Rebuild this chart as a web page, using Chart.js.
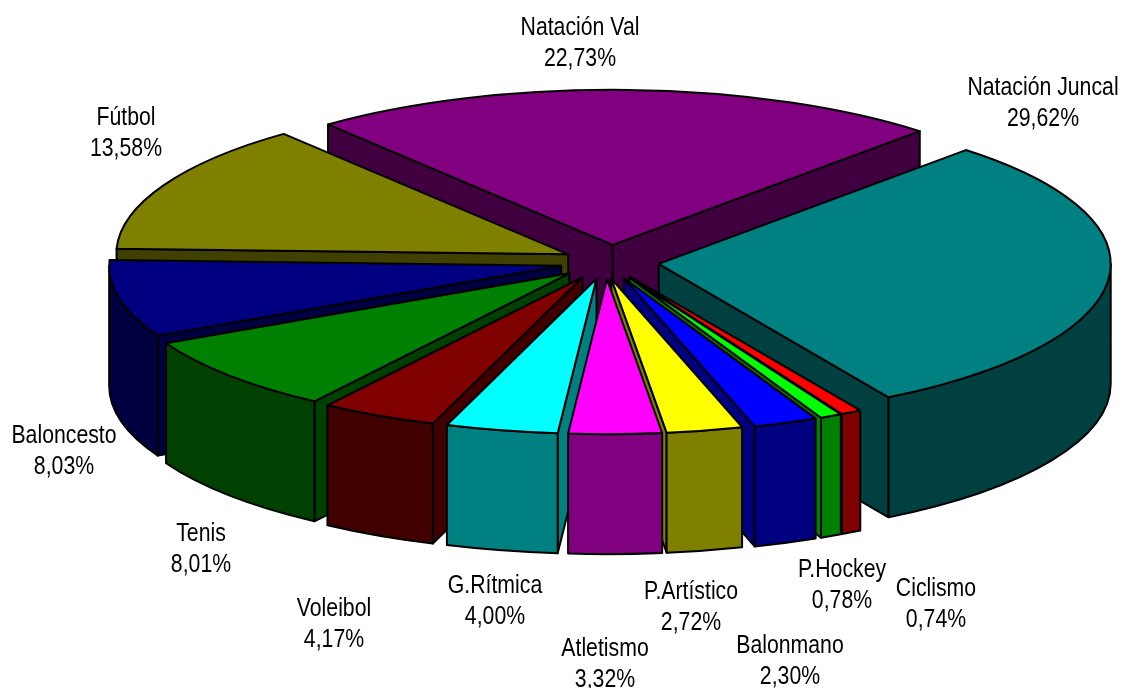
<!DOCTYPE html>
<html><head><meta charset="utf-8">
<style>html,body{margin:0;padding:0;background:#fff}canvas{display:block}</style>
<script src="https://cdn.jsdelivr.net/npm/chart.js@4"></script>
</head><body><canvas id="c" width="1122" height="688"></canvas>
<script>
const categories = ["Natación Juncal","Ciclismo","P.Hockey","Balonmano","P.Artístico","Atletismo","G.Rítmica","Voleibol","Tenis","Baloncesto","Fútbol","Natación Val"];
const values = [29.62,0.74,0.78,2.30,2.72,3.32,4.00,4.17,8.01,8.03,13.58,22.73];
const topColors = ["#008080","#FF0000","#00FF00","#0000FF","#FFFF00","#FF00FF","#00FFFF","#800000","#008000","#000080","#808000","#800080"];
const wallColors = ["#004040","#800000","#008000","#000080","#808000","#800080","#008080","#400000","#004000","#000040","#404000","#400040"];
const labelAnchors = [[1043,88],[936,589],[842,570],[790,646],[691,592],[605,649],[495,586],[334,609],[201,534],[64,436],[126,118],[580,28]];
const sliceNudge = [-1,-4,-3,-4,-9,-4,-3,-5,-3,0,3,1];

const CX = 610, CY = 262, TILT = 0.343, DEPTH = 120, RADIUS = 452, EXPLODE = 50, LINE = 2;
const FONT = '25px "Liberation Sans"', TEXT_SQUEEZE = 0.85, LINE_GAP = 31;

function geom(el,i){
  const p = el.getProps(['startAngle','endAngle','outerRadius','x','y']);
  const mid = (p.startAngle+p.endAngle)/2;
  const ax = CX + sliceNudge[i] + Math.cos(mid)*EXPLODE, ay = CY + Math.sin(mid)*EXPLODE*TILT;
  const pt = a => [ax+Math.cos(a)*p.outerRadius, ay+Math.sin(a)*p.outerRadius*TILT];
  return {...p, mid, ax, ay, pt};
}
function ellipseArc(ctx,g,a0,a1,dy,ccw){
  ctx.ellipse(g.ax,g.ay+dy,g.outerRadius,g.outerRadius*TILT,0,a0,a1,!!ccw);
}
function fillStroke(ctx,color){
  ctx.fillStyle=color;ctx.fill();ctx.strokeStyle='#000';ctx.lineWidth=LINE;ctx.lineJoin='round';ctx.stroke();
}
function drawWalls(ctx,g,color){
  const face = a => {
    const r=g.pt(a);
    ctx.beginPath();ctx.moveTo(g.ax,g.ay);ctx.lineTo(r[0],r[1]);ctx.lineTo(r[0],r[1]+DEPTH);ctx.lineTo(g.ax,g.ay+DEPTH);ctx.closePath();
    fillStroke(ctx,color);
  };
  if(Math.cos(g.startAngle)<0) face(g.startAngle);
  if(Math.cos(g.endAngle)>0) face(g.endAngle);
  const T=Math.PI*2;
  for(let k=-1;k<=1;k++){
    const a0=Math.max(g.startAngle,k*T), a1=Math.min(g.endAngle,k*T+Math.PI);
    if(a1>a0){
      ctx.beginPath();ellipseArc(ctx,g,a0,a1,0,false);ellipseArc(ctx,g,a1,a0,DEPTH,true);ctx.closePath();
      fillStroke(ctx,color);
    }
  }
}
const pie3d = {
  id:'pie3d',
  beforeDatasetDraw(chart,args){
    const ctx=chart.ctx, meta=args.meta, els=meta.data;
    const order=els.map((el,i)=>[i,Math.sin(geom(el,i).mid)]).sort((a,b)=>a[1]-b[1]).map(o=>o[0]);
    for(const i of order){
      const el=els[i], g=geom(el,i);
      drawWalls(ctx,g,wallColors[i]);
      // top face: the library's own arc element, flattened onto the ellipse and moved out
      ctx.save();
      ctx.translate(g.ax,g.ay);ctx.scale(1,TILT);ctx.translate(-g.x,-g.y);
      el.draw(ctx,chart.chartArea);
      ctx.restore();
      ctx.beginPath();ctx.moveTo(g.ax,g.ay);ellipseArc(ctx,g,g.startAngle,g.endAngle,0,false);ctx.closePath();
      ctx.strokeStyle='#000';ctx.lineWidth=LINE;ctx.lineJoin='round';ctx.stroke();
    }
    return false;
  },
  afterDraw(chart){
    const ctx=chart.ctx;
    categories.forEach((c,i)=>{
      const [x,y]=labelAnchors[i];
      ctx.save();
      ctx.font=FONT;ctx.fillStyle='#000';ctx.textAlign='center';ctx.textBaseline='middle';
      ctx.translate(x,y);ctx.scale(TEXT_SQUEEZE,1);
      ctx.fillText(c,0,0);
      ctx.fillText(values[i].toFixed(2).replace('.',',')+'%',0,LINE_GAP);
      ctx.restore();
    });
  }
};
new Chart(document.getElementById('c'),{
  type:'pie',
  data:{labels:categories,datasets:[{data:values,backgroundColor:topColors,borderWidth:0,offset:0,hoverOffset:0}]},
  options:{
    responsive:false,animation:false,radius:RADIUS,
    rotation:42.8,
    events:[],
    layout:{padding:0},
    plugins:{legend:{display:false},tooltip:{enabled:false}}
  },
  plugins:[pie3d]
});
</script></body></html>
